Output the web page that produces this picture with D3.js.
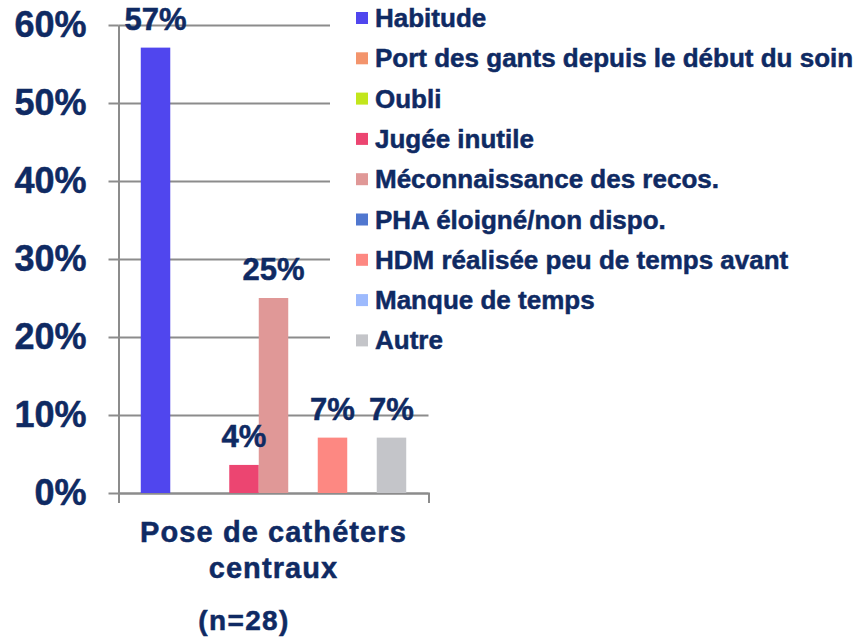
<!DOCTYPE html>
<html>
<head>
<meta charset="utf-8">
<script src="https://cdn.jsdelivr.net/npm/d3@7"></script>
<style>
  body { margin: 0; background: #fff; }
  svg text { font-family: "Liberation Sans", Arial, sans-serif; font-weight: bold; fill: #0f2a63; stroke: #0f2a63; stroke-width: 0.5px; }
</style>
</head>
<body>
<div id="chart"></div>
<script>
// data (n=28)
const categories = ["Pose de cathéters centraux"];
const seriesNames = [
    "Habitude",
    "Port des gants depuis le début du soin",
    "Oubli",
    "Jugée inutile",
    "Méconnaissance des recos.",
    "PHA éloigné/non dispo.",
    "HDM réalisée peu de temps avant",
    "Manque de temps",
    "Autre"
];
const seriesValues = [0.571, 0, 0, 0.036, 0.25, 0, 0.071, 0, 0.071];
const seriesColors = ["#5046ee", "#f3946c", "#c2e61c", "#ec4571", "#e09897", "#5077cf", "#fd8882", "#9dbafd", "#c4c5c9"];
const yTicks = [0, 0.1, 0.2, 0.3, 0.4, 0.5, 0.6];
const categoryLines = ["Pose de cathéters", "centraux"];
const sampleLabel = "(n=28)";

const width = 861, height = 639;
const lineColor = "#8c8c8c";

const svg = d3.select('#chart')
    .append('svg')
    .attr('width', width)
    .attr('height', height);

// scales
const yScale = d3.scaleLinear()
    .domain([0, 0.6])
    .range([493, 25]);
const x0 = d3.scaleBand()
    .domain(categories)
    .range([118.5, 428.5]);
const x1 = d3.scaleBand()
    .domain(seriesNames)
    .range([0, x0.bandwidth()])
    .paddingOuter(0.755);

// gridlines
const grid = svg.append('g')
    .attr('transform', 'translate(118.5,0)')
    .call(d3.axisLeft(yScale).tickValues(yTicks).tickSize(-(428.5 - 118.5)).tickFormat(''));
grid.select('.domain').remove();
grid.selectAll('line').attr('stroke', lineColor).attr('stroke-width', 2);

// legend background hides the gridlines behind it
svg.append('rect')
    .attr('x', 330).attr('y', 0)
    .attr('width', width - 330).attr('height', 365)
    .attr('fill', '#fff');

// y axis
const yAxis = svg.append('g')
    .attr('transform', 'translate(118.5,0)')
    .call(d3.axisLeft(yScale)
        .tickValues(yTicks)
        .tickSizeInner(10)
        .tickSizeOuter(0)
        .tickPadding(22)
        .tickFormat(d3.format('.0%')));
yAxis.selectAll('line').attr('stroke', lineColor).attr('stroke-width', 2);
yAxis.select('.domain').attr('stroke', lineColor).attr('stroke-width', 2);
yAxis.selectAll('text')
    .attr('font-size', 36)
    .attr('fill', '#0f2a63')
    .attr('font-family', null);

// x axis (only the baseline and the end ticks)
const xAxis = svg.append('g')
    .attr('transform', 'translate(0,' + yScale(0) + ')')
    .call(d3.axisBottom(x0).tickSizeInner(0).tickSizeOuter(10).tickFormat(''));
xAxis.select('.domain').attr('stroke', lineColor).attr('stroke-width', 2);

// bars
const data = seriesNames.map((name, i) => ({ name: name, value: seriesValues[i], color: seriesColors[i] }));
const group = svg.append('g')
    .attr('transform', 'translate(' + x0(categories[0]) + ',0)');
group.selectAll('.bar')
    .data(data.filter(d => d.value > 0))
    .join('rect')
    .attr('class', 'bar')
    .attr('x', d => x1(d.name))
    .attr('width', x1.bandwidth())
    .attr('y', d => yScale(d.value))
    .attr('height', d => yScale(0) - yScale(d.value))
    .attr('fill', d => d.color);

// value labels
group.selectAll('.val')
    .data(data.filter(d => d.value > 0))
    .join('text')
    .attr('class', 'val')
    .attr('x', d => x1(d.name) + x1.bandwidth() / 2)
    .attr('y', d => yScale(d.value) - 18)
    .attr('text-anchor', 'middle')
    .attr('font-size', 31)
    .text(d => Math.round(d.value * 100) + '%');

// category label
svg.append('text')
    .attr('x', x0(categories[0]) + x0.bandwidth() / 2)
    .attr('text-anchor', 'middle')
    .attr('font-size', 29)
    .attr('letter-spacing', 1.1)
    .selectAll('tspan')
    .data(categoryLines)
    .join('tspan')
    .attr('x', x0(categories[0]) + x0.bandwidth() / 2)
    .attr('y', (d, i) => 542 + i * 36)
    .text(d => d);

svg.append('text')
    .attr('x', 244)
    .attr('y', 630)
    .attr('text-anchor', 'middle')
    .attr('font-size', 28)
    .attr('letter-spacing', 1.4)
    .text(sampleLabel);

// legend
const legend = svg.append('g')
    .selectAll('g')
    .data(data)
    .join('g')
    .attr('transform', (d, i) => 'translate(356,' + (18 + i * 40.3) + ')');
legend.append('rect')
    .attr('x', 0).attr('y', -6)
    .attr('width', 12).attr('height', 12)
    .attr('fill', d => d.color);
legend.append('text')
    .attr('x', 19)
    .attr('y', 9)
    .attr('font-size', 26)
    .text(d => d.name);
</script>
</body>
</html>
